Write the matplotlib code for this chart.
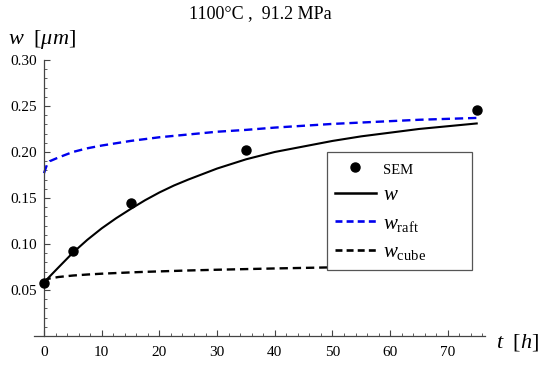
import matplotlib
matplotlib.use('Agg')
import matplotlib.pyplot as plt
from matplotlib.lines import Line2D
from matplotlib.ticker import MultipleLocator, FixedLocator, FormatStrFormatter

plt.rcParams['font.family'] = ['Liberation Serif', 'DejaVu Serif']
plt.rcParams['mathtext.fontset'] = 'custom'
plt.rcParams['mathtext.rm'] = 'Liberation Serif'
plt.rcParams['mathtext.it'] = 'Liberation Serif:italic'
plt.rcParams['lines.scale_dashes'] = False

# SEM measurements, t in h, w in um
t_sem = [0, 5, 15, 35, 75]
w_sem = [0.058, 0.092, 0.144, 0.202, 0.246]

# model curves read at these times
t_mod = [0, 0.5, 1, 2.5, 5, 7.5, 10, 12.5, 15, 17.5, 20, 22.5, 25, 30, 35, 40, 45, 50, 55, 60, 65, 70, 75]
w_mod = [0.058, 0.0615, 0.0648, 0.0745, 0.0905, 0.1045, 0.117, 0.128, 0.138, 0.1475, 0.156, 0.1635, 0.170,
         0.182, 0.192, 0.200, 0.206, 0.212, 0.217, 0.221, 0.225, 0.228, 0.231]
w_raft = [0.177, 0.186, 0.190, 0.194, 0.200, 0.204, 0.207, 0.2095, 0.212, 0.214, 0.216, 0.2175, 0.219,
          0.222, 0.224, 0.2265, 0.2285, 0.2305, 0.232, 0.2335, 0.235, 0.236, 0.237]
w_cube = [0.058, 0.0616, 0.0625, 0.0641, 0.0657, 0.0668, 0.0677, 0.0684, 0.0691, 0.0697, 0.0702, 0.0707, 0.0712,
          0.0720, 0.0727, 0.0734, 0.0740, 0.0746, 0.0751, 0.0756, 0.0761, 0.0765, 0.0770]

fig = plt.figure(figsize=(5.38, 3.65), dpi=100)
ax = fig.add_axes([0.0636, 0.0795, 0.8375, 0.7562])

ax.plot(t_mod, w_cube, color='black', lw=1.7, dashes=(6, 3.5))
ax.plot(t_mod, w_raft, color='#0000ee', lw=1.7, dashes=(6, 3.5))
ax.plot(t_mod, w_mod, color='black', lw=1.5)
ax.plot(t_sem, w_sem, 'o', color='black', ms=6.5, clip_on=False, zorder=5)

ax.set_xlim(-1.7, 76.4)
ax.set_ylim(0, 0.30)
for s in ['top', 'right']:
    ax.spines[s].set_visible(False)
ax.spines['left'].set_position(('data', 0))
ax.spines['bottom'].set_position(('data', 0))
for s in ['left', 'bottom']:
    ax.spines[s].set_color('#444444')
    ax.spines[s].set_linewidth(0.9)

ax.xaxis.set_major_locator(MultipleLocator(10))
ax.xaxis.set_minor_locator(MultipleLocator(2))
ax.yaxis.set_major_locator(FixedLocator([0.05, 0.10, 0.15, 0.20, 0.25, 0.30]))
ax.yaxis.set_minor_locator(MultipleLocator(0.01))
ax.yaxis.set_major_formatter(FormatStrFormatter('%.2f'))
ax.tick_params(which='both', direction='in', color='#444444', labelsize=11)
ax.tick_params(axis='x', pad=7)
ax.tick_params(axis='y', pad=5)
ax.tick_params(which='major', length=4, width=0.8)
ax.tick_params(which='minor', length=2.2, width=0.6)

fig.text(0.483, 0.964, '1100°C ,  91.2 MPa', ha='center', va='center', fontsize=13)
fig.text(0.014, 0.893, r'$w\ \ [\mu m]$', ha='left', va='center', fontsize=16)
fig.text(0.922, 0.063, r'$t\ \ [h]$', ha='left', va='center', fontsize=16)

handles = [
    Line2D([], [], ls='none', marker='o', color='black', ms=6.5),
    Line2D([], [], color='black', lw=1.8),
    Line2D([], [], color='#0000ee', lw=1.9, dashes=(5, 3)),
    Line2D([], [], color='black', lw=1.9, dashes=(5, 3)),
]
labels = ['SEM', r'$w$', r'$w_{\rm raft}$', r'$w_{\rm cube}$']
leg = ax.legend(handles, labels, loc='upper left', bbox_to_anchor=(0.650, 0.25, 0.3216, 0.4167),
                mode='expand', fontsize=15, frameon=True, fancybox=False, framealpha=1,
                edgecolor='#555555', handlelength=2.0, handletextpad=0.3,
                labelspacing=0.42, borderpad=0.36, borderaxespad=0)
leg.get_frame().set_linewidth(0.9)
leg.get_texts()[0].set_fontsize(10.5)

plt.savefig('out.png', dpi=100)
plt.close()
